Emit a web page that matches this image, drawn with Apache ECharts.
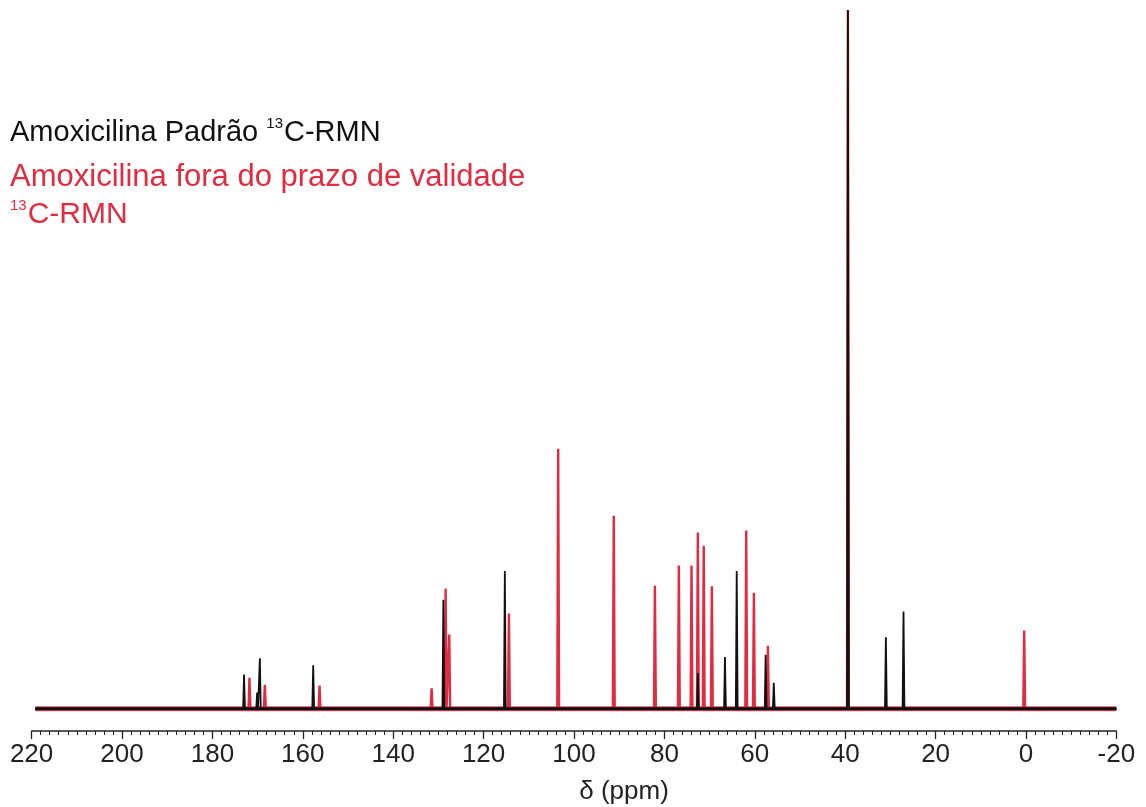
<!DOCTYPE html>
<html>
<head>
<meta charset="utf-8">
<script src="https://cdn.jsdelivr.net/npm/echarts@6/dist/echarts.min.js"></script>
<style>
  html, body { margin: 0; padding: 0; background: #fff; }
  #chart { width: 1146px; height: 807px; }
</style>
</head>
<body>
<div id="chart"></div>
<script>
const blackPpm = [173.0, 170.1, 169.5, 157.7, 128.9, 115.3, 72.6, 66.6, 64.0, 57.6, 55.8, 39.4, 31.0, 27.1]
const blackInt = [4.9, 2.3, 7.2, 6.2, 15.6, 19.7, 5.1, 7.4, 19.7, 7.7, 3.7, 100, 10.2, 13.9]
const redPpm = [171.8, 168.4, 156.3, 131.5, 128.4, 127.6, 114.4, 103.5, 91.2, 82.1, 76.8, 74.0, 72.6, 71.3, 69.5, 61.9, 60.2, 57.1, 39.4, 0.4]
const redInt = [4.4, 3.4, 3.3, 2.9, 17.2, 10.6, 13.6, 37.2, 27.6, 17.6, 20.5, 20.5, 25.2, 23.3, 17.5, 25.5, 16.6, 9.0, 100, 11.2]
// faixa do espectro registrada
const specRange = [219.2, -20]
const tickLabels = [220, 200, 180, 160, 140, 120, 100, 80, 60, 40, 20, 0, -20]

const BLACK = '#111111'
const RED = '#e22a40'
const FONT = 'Liberation Sans, Arial, sans-serif'

// monta o espectro em "palitos": um triangulo fino por pico sobre a linha de base
function sticks(ppm, inten) {
  const hw = 0.2
  const idx = ppm.map((p, i) => i).sort((a, b) => ppm[b] - ppm[a])
  const out = [[specRange[0], 0]]
  idx.forEach(i => {
    out.push([ppm[i] + hw, 0])
    out.push([ppm[i], inten[i]])
    out.push([ppm[i] - hw, 0])
  })
  out.push([specRange[1], 0])
  return out
}

const baseline = [[specRange[0], 0], [specRange[1], 0]]

const chart = echarts.init(document.getElementById('chart'))

const option = {
  animation: false,
  backgroundColor: '#fff',
  grid: {
    left: 31.6,
    right: 29.6,
    top: 10,
    bottom: 76,
    outerBoundsMode: 'none'
  },
  xAxis: {
    type: 'value',
    inverse: true,
    min: -20,
    max: 220,
    interval: 20,
    name: 'δ (ppm)',
    nameLocation: 'middle',
    nameGap: 48,
    nameTextStyle: {
      fontFamily: FONT,
      fontSize: 26,
      color: '#222',
      padding: [0, 0, 0, 100]
    },
    axisLine: { onZero: false, lineStyle: { color: '#222', width: 1.5 } },
    axisTick: { length: 8, lineStyle: { color: '#222', width: 1.3 } },
    minorTick: { show: true, splitNumber: 10, length: 4, lineStyle: { color: '#222', width: 1 } },
    splitLine: { show: false },
    axisLabel: {
      fontFamily: FONT,
      fontSize: 26,
      color: '#222',
      margin: 11,
      showMinLabel: true,
      showMaxLabel: true,
      formatter: v => (tickLabels.indexOf(v) >= 0 ? String(v) : '')
    }
  },
  yAxis: {
    type: 'value',
    show: false,
    min: -3.2,
    max: 100
  },
  series: [
    {
      type: 'line',
      data: baseline,
      showSymbol: false,
      silent: true,
      lineStyle: { color: RED, width: 5, opacity: 0.85 }
    },
    {
      name: 'Amoxicilina fora do prazo de validade',
      type: 'line',
      data: sticks(redPpm, redInt),
      showSymbol: false,
      lineStyle: { color: RED, width: 2.4 }
    },
    {
      type: 'line',
      data: baseline,
      showSymbol: false,
      silent: true,
      lineStyle: { color: BLACK, width: 3 }
    },
    {
      name: 'Amoxicilina Padrão',
      type: 'line',
      data: sticks(blackPpm, blackInt),
      showSymbol: false,
      lineStyle: { color: BLACK, width: 1.8 }
    }
  ],
  graphic: [
    {
      type: 'text',
      left: 10,
      top: 116,
      style: {
        text: '{a|Amoxicilina Padrão }{s|13}{a|C-RMN}',
        rich: {
          a: { fontFamily: FONT, fontSize: 29, fill: BLACK, lineHeight: 34 },
          s: { fontFamily: FONT, fontSize: 15, fill: BLACK, lineHeight: 34, verticalAlign: 'top', padding: [0, 1, 12, 0] }
        }
      }
    },
    {
      type: 'text',
      left: 10,
      top: 162,
      style: {
        text: '{a|Amoxicilina fora do prazo de validade}',
        rich: {
          a: { fontFamily: FONT, fontSize: 31, fill: RED, lineHeight: 34 }
        }
      }
    },
    {
      type: 'text',
      left: 10,
      top: 198,
      style: {
        text: '{s|13}{a|C-RMN}',
        rich: {
          a: { fontFamily: FONT, fontSize: 30, fill: RED, lineHeight: 34 },
          s: { fontFamily: FONT, fontSize: 15, fill: RED, lineHeight: 34, verticalAlign: 'top', padding: [0, 1, 12, 0] }
        }
      }
    }
  ]
}

chart.setOption(option)
</script>
</body>
</html>
